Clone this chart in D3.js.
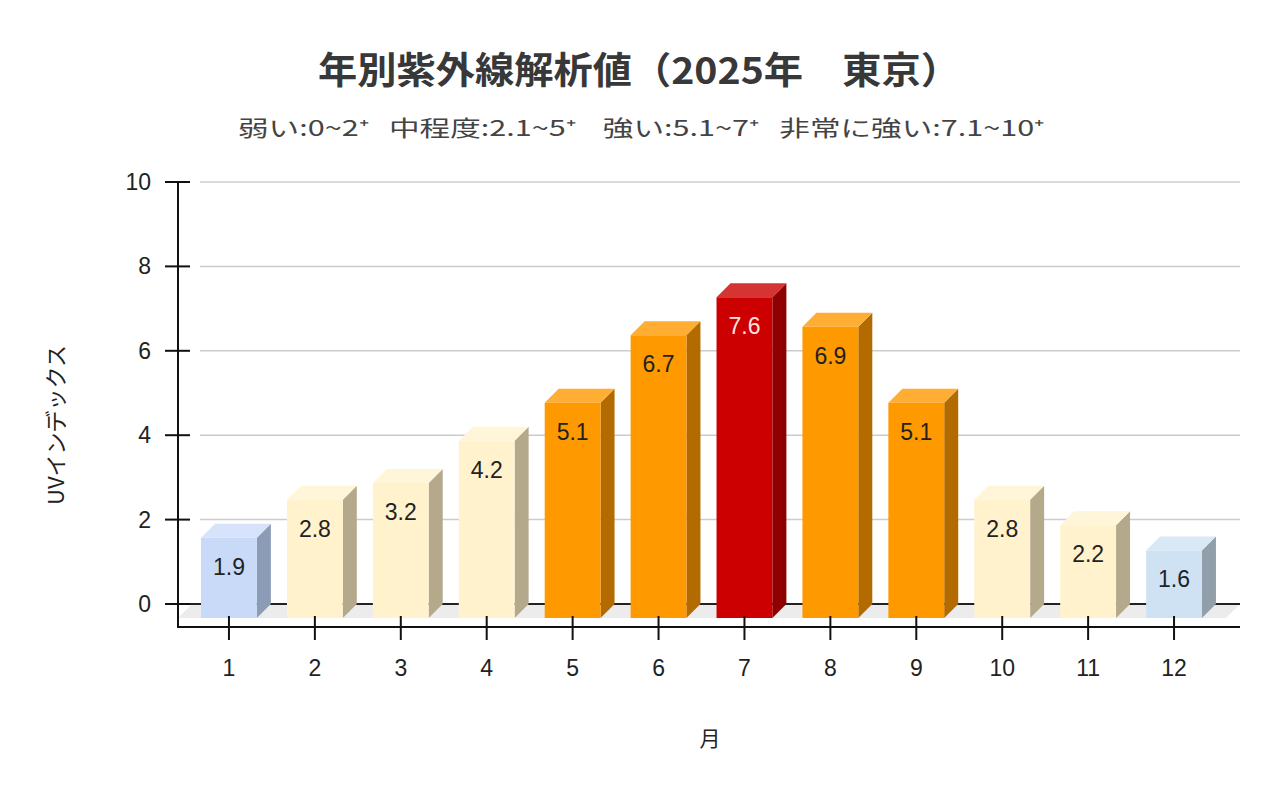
<!DOCTYPE html>
<html>
<head>
<meta charset="utf-8">
<script src="https://cdn.jsdelivr.net/npm/d3@7/dist/d3.min.js"></script>
<style>
  body { margin: 0; background: #fff; }
  svg { display: block; font-family: "Liberation Sans", Arial, "Noto Sans CJK JP", sans-serif; }
</style>
</head>
<body>
<svg id="chart" width="1280" height="791"></svg>
<script>
// data
var months = ['1', '2', '3', '4', '5', '6', '7', '8', '9', '10', '11', '12'];
var uvValues = [1.9, 2.8, 3.2, 4.2, 5.1, 6.7, 7.6, 6.9, 5.1, 2.8, 2.2, 1.6];
var yTicks = [0, 2, 4, 6, 8, 10];
// front / top / side colour per bar
var frontColors = ['#c9daf8', '#fff2cc', '#fff2cc', '#fff2cc', '#ff9900', '#ff9900', '#cc0000', '#ff9900', '#ff9900', '#fff2cc', '#fff2cc', '#cfe2f3'];
var topColors = ['#d6e3fa', '#fff5d8', '#fff5d8', '#fff5d8', '#ffad33', '#ffad33', '#d63333', '#ffad33', '#ffad33', '#fff5d8', '#fff5d8', '#d9e8f5'];
var sideColors = ['#8d9cb6', '#b4a98a', '#b4a98a', '#b4a98a', '#b36b00', '#b36b00', '#8f0000', '#b36b00', '#b36b00', '#b4a98a', '#b4a98a', '#909faa'];

var title = '年別紫外線解析値（2025年　東京）';
var subtitle = '弱い:0~2⁺   中程度:2.1~5⁺    強い:5.1~7⁺   非常に強い:7.1~10⁺';

var depth = 14;
var svg = d3.select('#chart');

var x = d3.scaleBand()
  .domain(months)
  .range([186, 1217])
  .paddingInner(0.35)
  .paddingOuter(0.175);

var y = d3.scaleLinear()
  .domain([0, 10])
  .range([604, 182]);

// titles
svg.append('text')
  .attr('x', 639).attr('y', 84)
  .attr('text-anchor', 'middle')
  .attr('font-size', 37).attr('font-weight', 'bold')
  .attr('fill', '#383838')
  .attr('font-family', '"Noto Sans CJK JP", sans-serif')
  .attr('textLength', 642)
  .attr('lengthAdjust', 'spacingAndGlyphs')
  .text(title);

svg.append('text')
  .attr('x', 641).attr('y', 136)
  .attr('text-anchor', 'middle')
  .attr('font-size', 22)
  .attr('fill', '#444')
  .style('white-space', 'pre')
  .attr('font-family', '"Noto Sans CJK JP", sans-serif')
  .attr('textLength', 806)
  .attr('lengthAdjust', 'spacingAndGlyphs')
  .text(subtitle);

// gridlines on the back wall
svg.append('g')
  .selectAll('line')
  .data(yTicks.filter(d => d > 0))
  .join('line')
  .attr('x1', 200).attr('x2', 1240)
  .attr('y1', d => y(d)).attr('y2', d => y(d))
  .attr('stroke', '#cccccc').attr('stroke-width', 1.5);

// floor
var floorFront = y(0) + depth;
svg.append('path')
  .attr('d', `M${178 + depth},${y(0)} L1240,${y(0)} L${1240 - depth},${floorFront} L178,${floorFront} Z`)
  .attr('fill', '#ececec');

// zero line
svg.append('line')
  .attr('x1', 190).attr('x2', 1240)
  .attr('y1', y(0)).attr('y2', y(0))
  .attr('stroke', '#222').attr('stroke-width', 2);

// bars
var bars = svg.append('g')
  .selectAll('g')
  .data(months.map((m, i) => ({ m: m, v: uvValues[i], i: i })))
  .join('g');

var bw = x.bandwidth();

// side face
bars.append('path')
  .attr('d', d => {
    var x1 = x(d.m) + bw;
    var yt = y(d.v) + depth;
    return `M${x1},${yt} L${x1 + depth},${yt - depth} L${x1 + depth},${floorFront - depth} L${x1},${floorFront} Z`;
  })
  .attr('fill', d => sideColors[d.i]);

// top face
bars.append('path')
  .attr('d', d => {
    var x0 = x(d.m);
    var yt = y(d.v) + depth;
    return `M${x0},${yt} L${x0 + depth},${yt - depth} L${x0 + bw + depth},${yt - depth} L${x0 + bw},${yt} Z`;
  })
  .attr('fill', d => topColors[d.i]);

// front face
bars.append('rect')
  .attr('x', d => x(d.m))
  .attr('y', d => y(d.v) + depth)
  .attr('width', bw)
  .attr('height', d => floorFront - y(d.v) - depth)
  .attr('fill', d => frontColors[d.i]);

// value labels
bars.append('text')
  .attr('x', d => x(d.m) + bw / 2)
  .attr('y', d => y(d.v) + depth + 37)
  .attr('text-anchor', 'middle')
  .attr('font-size', 23)
  .attr('fill', d => d.v > 7 ? '#fbe3e3' : '#222')
  .text(d => d.v.toFixed(1));

// y axis
var yAxis = svg.append('g');
yAxis.append('line')
  .attr('x1', 178).attr('x2', 178)
  .attr('y1', y(10)).attr('y2', floorFront + 9)
  .attr('stroke', '#111').attr('stroke-width', 2);
yAxis.selectAll('.tick')
  .data(yTicks)
  .join('line')
  .attr('x1', 165).attr('x2', 190)
  .attr('y1', d => y(d)).attr('y2', d => y(d))
  .attr('stroke', '#111').attr('stroke-width', 2);
yAxis.selectAll('text')
  .data(yTicks)
  .join('text')
  .attr('x', 151)
  .attr('y', d => y(d) + 8)
  .attr('text-anchor', 'end')
  .attr('font-size', 23)
  .attr('fill', '#222')
  .text(d => d);

// x axis
var xAxis = svg.append('g');
xAxis.append('line')
  .attr('x1', 177).attr('x2', 1240)
  .attr('y1', floorFront + 9).attr('y2', floorFront + 9)
  .attr('stroke', '#111').attr('stroke-width', 2);
xAxis.selectAll('.tick')
  .data(months)
  .join('line')
  .attr('x1', d => x(d) + bw / 2).attr('x2', d => x(d) + bw / 2)
  .attr('y1', floorFront - 2).attr('y2', floorFront + 22)
  .attr('stroke', '#111').attr('stroke-width', 2);
xAxis.selectAll('text')
  .data(months)
  .join('text')
  .attr('x', d => x(d) + bw / 2)
  .attr('y', 676)
  .attr('text-anchor', 'middle')
  .attr('font-size', 23)
  .attr('fill', '#222')
  .text(d => d);

// axis titles
svg.append('text')
  .attr('transform', 'translate(64,425) rotate(-90)')
  .attr('text-anchor', 'middle')
  .attr('font-size', 22)
  .attr('fill', '#222')
  .attr('font-family', '"Noto Sans CJK JP", sans-serif')
  .text('UVインデックス');

svg.append('text')
  .attr('x', 710).attr('y', 746)
  .attr('text-anchor', 'middle')
  .attr('font-size', 21)
  .attr('fill', '#222')
  .attr('font-family', '"Noto Sans CJK JP", sans-serif')
  .text('月');
</script>
</body>
</html>
